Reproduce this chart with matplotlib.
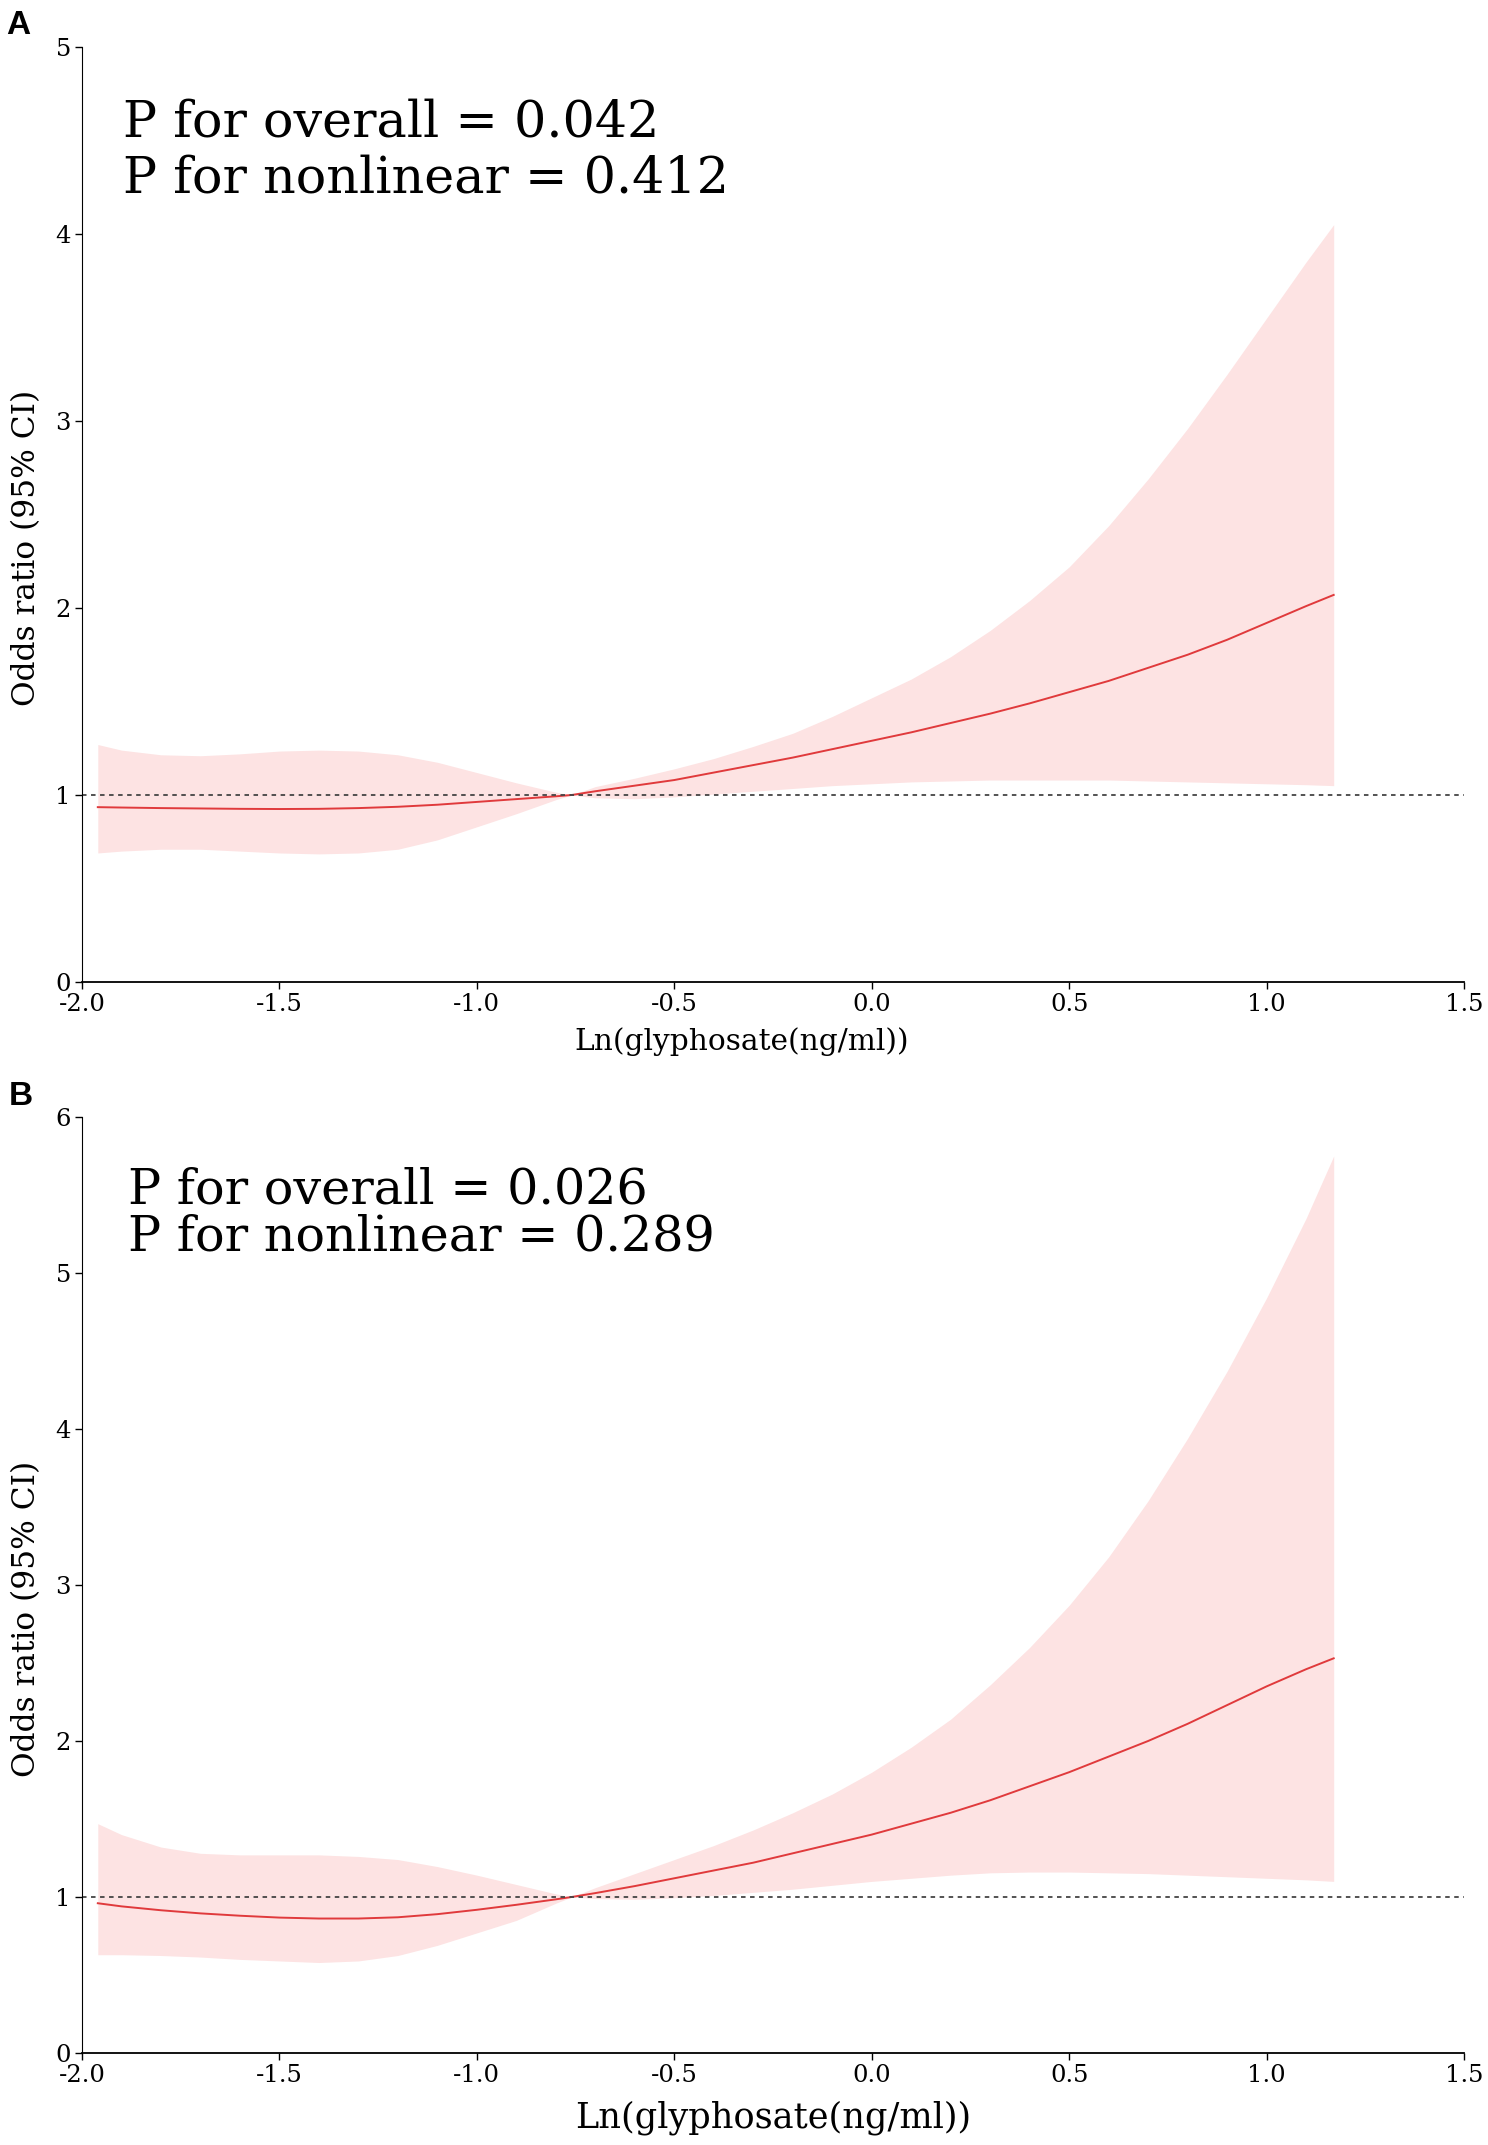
import matplotlib
matplotlib.use('Agg')
import matplotlib.pyplot as plt

plt.rcParams['font.family'] = 'DejaVu Serif'
plt.rcParams['axes.unicode_minus'] = False

# grid of exposure values (ln glyphosate)
x = [-1.96, -1.9, -1.8, -1.7, -1.6, -1.5, -1.4, -1.3, -1.2, -1.1, -1.0, -0.9, -0.8, -0.76,
     -0.7, -0.6, -0.5, -0.4, -0.3, -0.2, -0.1, 0.0, 0.1, 0.2, 0.3, 0.4, 0.5, 0.6, 0.7,
     0.8, 0.9, 1.0, 1.1, 1.17]

# panel A
or_a = [0.935, 0.933, 0.930, 0.928, 0.926, 0.925, 0.926, 0.930, 0.937, 0.948, 0.963, 0.978, 0.993, 1.0,
        1.02, 1.05, 1.08, 1.12, 1.16, 1.20, 1.245, 1.29, 1.335, 1.385, 1.435, 1.49, 1.55, 1.61, 1.68,
        1.75, 1.83, 1.92, 2.01, 2.07]
hi_a = [1.27, 1.24, 1.215, 1.21, 1.22, 1.235, 1.24, 1.235, 1.215, 1.175, 1.12, 1.065, 1.015, 1.0,
        1.045, 1.09, 1.14, 1.195, 1.26, 1.33, 1.42, 1.52, 1.62, 1.74, 1.88, 2.04, 2.22, 2.44, 2.69,
        2.96, 3.25, 3.55, 3.85, 4.05]
lo_a = [0.69, 0.70, 0.71, 0.71, 0.70, 0.69, 0.685, 0.69, 0.71, 0.76, 0.83, 0.90, 0.975, 1.0,
        0.985, 0.98, 0.99, 1.005, 1.02, 1.035, 1.05, 1.06, 1.07, 1.075, 1.08, 1.08, 1.08, 1.08, 1.075,
        1.07, 1.065, 1.06, 1.055, 1.05]

# panel B
or_b = [0.96, 0.94, 0.915, 0.895, 0.88, 0.868, 0.862, 0.862, 0.87, 0.89, 0.918, 0.95, 0.985, 1.0,
        1.025, 1.07, 1.12, 1.17, 1.22, 1.28, 1.34, 1.40, 1.47, 1.54, 1.62, 1.71, 1.80, 1.90, 2.00,
        2.11, 2.23, 2.35, 2.46, 2.53]
hi_b = [1.47, 1.40, 1.32, 1.28, 1.27, 1.27, 1.27, 1.26, 1.24, 1.195, 1.14, 1.08, 1.02, 1.0,
        1.06, 1.15, 1.24, 1.33, 1.43, 1.54, 1.66, 1.80, 1.96, 2.14, 2.36, 2.60, 2.87, 3.18, 3.54,
        3.94, 4.37, 4.84, 5.35, 5.75]
lo_b = [0.63, 0.63, 0.625, 0.615, 0.60, 0.59, 0.58, 0.59, 0.625, 0.69, 0.77, 0.85, 0.96, 1.0,
        0.99, 0.985, 0.995, 1.01, 1.03, 1.05, 1.075, 1.10, 1.12, 1.14, 1.155, 1.16, 1.16, 1.155, 1.15,
        1.14, 1.13, 1.12, 1.11, 1.10]

xticks = [-2.0, -1.5, -1.0, -0.5, 0.0, 0.5, 1.0, 1.5]
p_text_a = 'P for overall = 0.042\nP for nonlinear = 0.412'
p_text_b = 'P for overall = 0.026\nP for nonlinear = 0.289'

FILL = '#fde3e3'
LINE = '#e03a3c'

W, H = 1488, 2145
fig = plt.figure(figsize=(W / 100, H / 100), dpi=100)


def panel(rect, orv, lo, hi, ymax, ptxt, pfs, plsp, ptx, pty, xl_fs, xl_x, xl_y, letter, lpos):
    ax = fig.add_axes(rect)
    ax.fill_between(x, lo, hi, color=FILL, lw=0)
    ax.plot(x, orv, color=LINE, lw=1.4)
    ax.axhline(1, color='#444444', lw=1.3, ls=(0, (2.5, 2.5)))
    ax.set_xlim(-2.0, 1.5)
    ax.set_ylim(0, ymax)
    ax.set_xticks(xticks)
    ax.set_xticklabels(['%.1f' % t for t in xticks])
    ax.set_yticks(range(ymax + 1))
    ax.tick_params(labelsize=17.5, length=5, width=1, pad=3)
    for s in ['top', 'right']:
        ax.spines[s].set_visible(False)
    ax.spines['bottom'].set_linewidth(1.3)
    ax.set_xlabel('Ln(glyphosate(ng/ml))', fontsize=xl_fs)
    ax.xaxis.label.set_va('baseline')
    ax.xaxis.set_label_coords(xl_x, xl_y)
    ax.set_ylabel('Odds ratio (95% CI)', fontsize=22.5)
    ax.yaxis.label.set_va('baseline')
    ax.yaxis.set_label_coords(-0.034, 0.464)
    # baseline of the last line sits at pty
    ax.text(ptx, pty, ptxt, transform=ax.transAxes, fontsize=pfs,
            va='baseline', ha='left', linespacing=plsp)
    fig.text(lpos[0], lpos[1], letter, fontsize=24, fontweight='bold',
             family=['Liberation Sans', 'DejaVu Sans'], va='baseline')
    return ax


panel([82 / W, 1 - 982 / H, 1382 / W, 935 / H], or_a, lo_a, hi_a, 5,
      p_text_a, 36.5, 1.18, 0.030, 0.844, 21.3, 0.4776, -0.0727, 'A', (6 / W, 1 - 34 / H))
panel([82 / W, 1 - 2053 / H, 1382 / W, 936 / H], or_b, lo_b, hi_b, 6,
      p_text_b, 35.4, 1.0, 0.033, 0.857, 25.3, 0.5, -0.080, 'B', (9 / W, 1 - 1105 / H))

fig.savefig('out.png', dpi=100)
